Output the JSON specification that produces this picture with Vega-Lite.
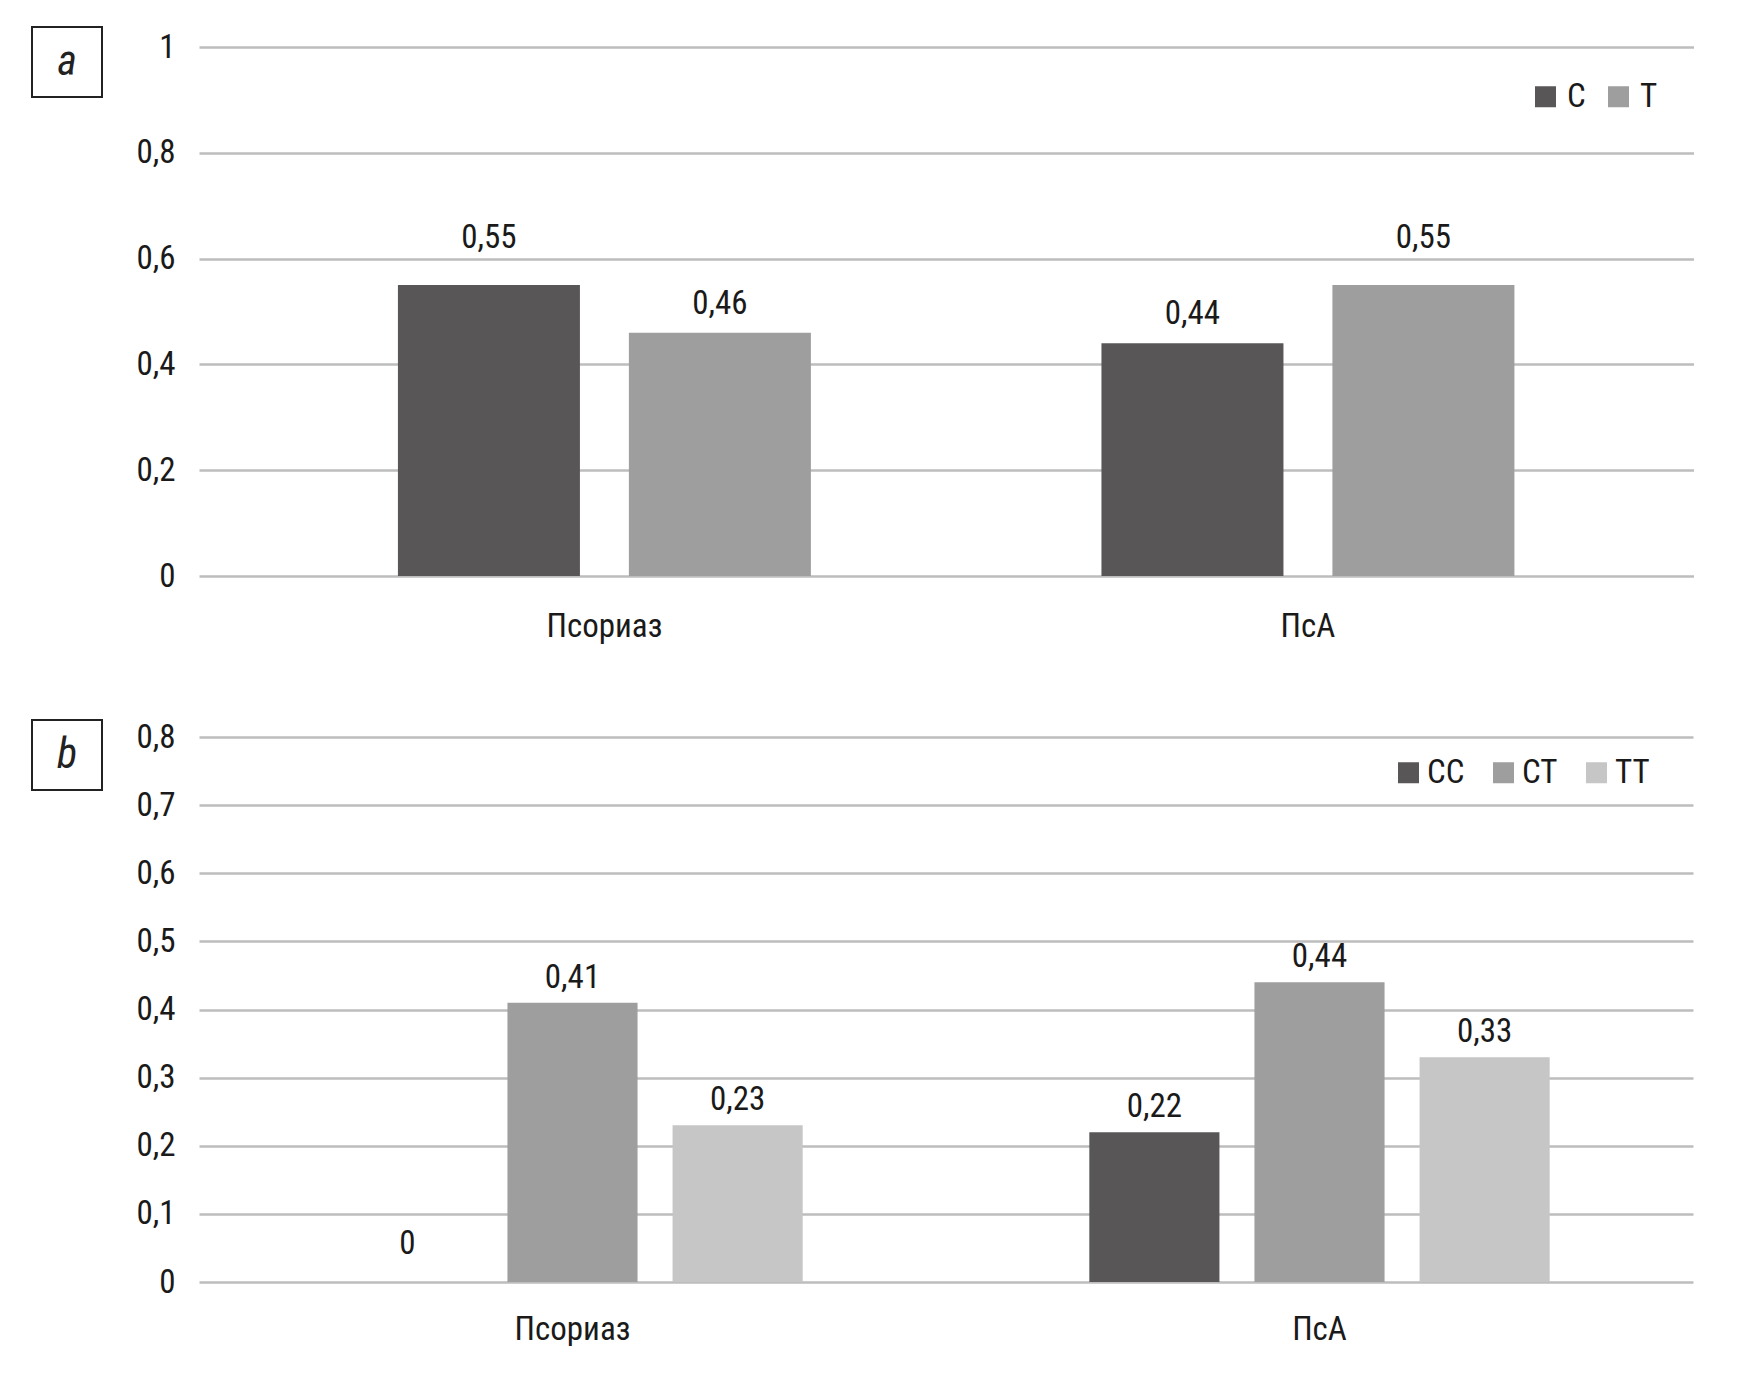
{
  "$schema": "https://vega.github.io/schema/vega-lite/v6.json",
  "background": "white",
  "padding": {"left": 31, "top": 26, "right": 0, "bottom": 0},
  "columns": 2,
  "align": "each",
  "spacing": {"row": 76, "column": 32},
  "resolve": {
    "scale": {"x": "independent", "y": "independent", "xOffset": "independent", "color": "independent"},
    "axis": {"x": "independent", "y": "independent"},
    "legend": {"color": "independent"}
  },
  "config": {
    "font": "Roboto Condensed, Noto Sans Condensed, Liberation Sans Narrow, DejaVu Sans Condensed, Roboto",
    "locale": {"number": {"decimal": ",", "thousands": " ", "grouping": [3], "currency": ["", ""]}},
    "view": {"stroke": "#222222", "strokeWidth": 2},
    "axis": {"labelFontSize": 33, "labelColor": "#1a1a1a", "ticks": false, "domain": false, "title": null},
    "legend": {"labelFontSize": 33, "labelColor": "#1a1a1a"}
  },
  "concat": [
    {
      "width": 70,
      "height": 70,
      "view": {"stroke": "#222222", "strokeWidth": 2, "fill": "white"},
      "data": {"values": [{"label": "a"}]},
      "mark": {"type": "text", "fontSize": 42, "fontStyle": "italic", "color": "#222222"},
      "encoding": {"text": {"field": "label", "type": "nominal"}}
    },
    {
      "spacing": 0,
      "vconcat": [
        {
          "width": 1495,
          "height": 4,
          "view": {"stroke": null},
          "data": {"values": []},
          "mark": {"type": "text"},
          "encoding": {}
        },
        {
          "width": 1495,
          "height": 529,
          "view": {"stroke": null},
          "data": {"values": [
            {"group": "Псориаз", "allele": "C", "value": 0.55},
            {"group": "Псориаз", "allele": "T", "value": 0.46},
            {"group": "ПсА", "allele": "C", "value": 0.44},
            {"group": "ПсА", "allele": "T", "value": 0.55}
          ]},
          "encoding": {
            "x": {"field": "group", "type": "nominal", "sort": ["Псориаз", "ПсА"],
                  "scale": {"paddingInner": 0, "paddingOuter": 0.0625, "align": 0.61},
                  "axis": {"labelAngle": 0, "title": null, "labelPadding": 34, "grid": false}},
            "xOffset": {"field": "allele", "type": "nominal", "sort": ["C", "T"],
                        "scale": {"paddingInner": 0.212, "paddingOuter": 0.629}},
            "y": {"field": "value", "type": "quantitative", "scale": {"domain": [0, 1]},
                  "axis": {"values": [0, 0.2, 0.4, 0.6, 0.8, 1], "format": "~g", "title": null, "grid": true,
                           "gridColor": "#bdbdbd", "gridWidth": 2.5, "labelPadding": 24}}
          },
          "layer": [
            {
              "mark": {"type": "bar"},
              "encoding": {
                "color": {"field": "allele", "type": "nominal", "sort": ["C", "T"],
                          "scale": {"domain": ["C", "T"], "range": ["#585657", "#9e9e9e"]},
                          "legend": {"title": null, "orient": "none", "legendX": 1330, "legendY": 53,
                                     "direction": "horizontal", "symbolType": "square", "symbolSize": 441,
                                     "symbolStrokeWidth": 0, "labelOffset": 5, "columnPadding": 16}}
              }
            },
            {
              "transform": [{"filter": "datum.value > 0.5"}],
              "mark": {"type": "text", "baseline": "alphabetic", "dy": -37, "fontSize": 33, "color": "#1a1a1a"},
              "encoding": {"text": {"field": "value", "type": "quantitative", "format": "~g"}}
            },
            {
              "transform": [{"filter": "datum.value <= 0.5"}],
              "mark": {"type": "text", "baseline": "alphabetic", "dy": -19, "fontSize": 33, "color": "#1a1a1a"},
              "encoding": {"text": {"field": "value", "type": "quantitative", "format": "~g"}}
            }
          ]
        }
      ]
    },
    {
      "width": 70,
      "height": 70,
      "view": {"stroke": "#222222", "strokeWidth": 2, "fill": "white"},
      "data": {"values": [{"label": "b"}]},
      "mark": {"type": "text", "fontSize": 42, "fontStyle": "italic", "color": "#222222"},
      "encoding": {"text": {"field": "label", "type": "nominal"}}
    },
    {
      "spacing": 0,
      "vconcat": [
        {
          "width": 1494,
          "height": 1,
          "view": {"stroke": null},
          "data": {"values": []},
          "mark": {"type": "text"},
          "encoding": {}
        },
        {
          "width": 1494,
          "height": 545,
          "view": {"stroke": null},
          "data": {"values": [
            {"group": "Псориаз", "genotype": "CC", "value": 0},
            {"group": "Псориаз", "genotype": "CT", "value": 0.41},
            {"group": "Псориаз", "genotype": "TT", "value": 0.23},
            {"group": "ПсА", "genotype": "CC", "value": 0.22},
            {"group": "ПсА", "genotype": "CT", "value": 0.44},
            {"group": "ПсА", "genotype": "TT", "value": 0.33}
          ]},
          "encoding": {
            "x": {"field": "group", "type": "nominal", "sort": ["Псориаз", "ПсА"],
                  "scale": {"paddingInner": 0, "paddingOuter": 0},
                  "axis": {"labelAngle": 0, "title": null, "labelPadding": 31, "labelDx": 8, "grid": false}},
            "xOffset": {"field": "genotype", "type": "nominal", "sort": ["CC", "CT", "TT"],
                        "scale": {"paddingInner": 0.212, "paddingOuter": 0.868}},
            "y": {"field": "value", "type": "quantitative", "scale": {"domain": [0, 0.8]},
                  "axis": {"values": [0, 0.1, 0.2, 0.3, 0.4, 0.5, 0.6, 0.7, 0.8], "format": "~g", "title": null, "grid": true,
                           "gridColor": "#bdbdbd", "gridWidth": 2.5, "labelPadding": 24}}
          },
          "layer": [
            {
              "mark": {"type": "bar"},
              "encoding": {
                "color": {"field": "genotype", "type": "nominal", "sort": ["CC", "CT", "TT"],
                          "scale": {"domain": ["CC", "CT", "TT"], "range": ["#585657", "#9e9e9e", "#c6c6c6"]},
                          "legend": {"title": null, "orient": "none", "legendX": 1193, "legendY": 36,
                                     "direction": "horizontal", "symbolType": "square", "symbolSize": 441,
                                     "symbolStrokeWidth": 0, "labelOffset": 2, "columnPadding": 22}}
              }
            },
            {
              "transform": [{"filter": "datum.value == 0"}],
              "mark": {"type": "text", "baseline": "alphabetic", "dy": -28, "fontSize": 33, "color": "#1a1a1a"},
              "encoding": {"text": {"field": "value", "type": "quantitative", "format": "~g"}}
            },
            {
              "transform": [{"filter": "datum.value > 0"}],
              "mark": {"type": "text", "baseline": "alphabetic", "dy": -15, "fontSize": 33, "color": "#1a1a1a"},
              "encoding": {"text": {"field": "value", "type": "quantitative", "format": "~g"}}
            }
          ]
        }
      ]
    }
  ]
}
